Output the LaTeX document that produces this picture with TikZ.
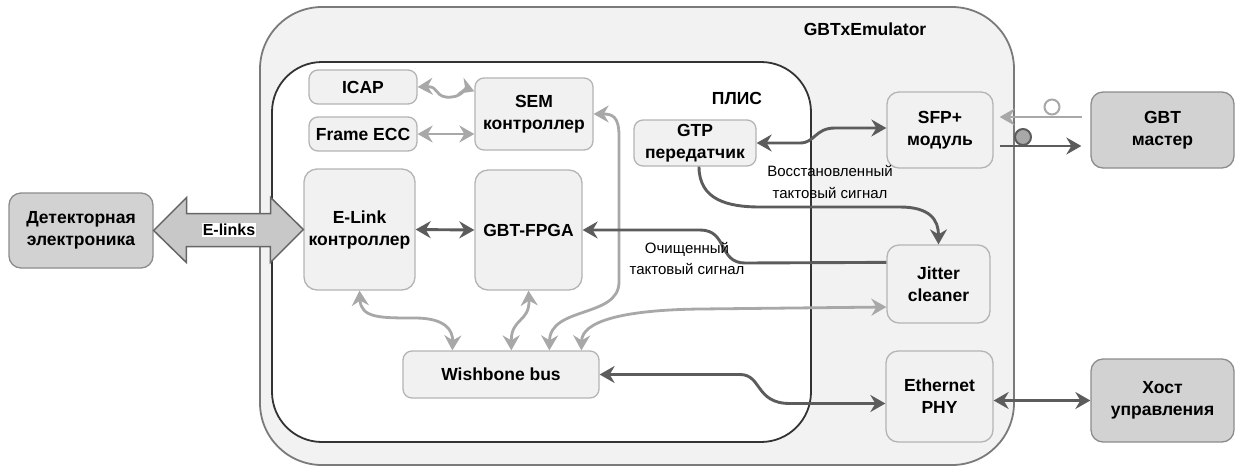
\documentclass[tikz,border=0pt]{standalone}
\usepackage{fontspec}
\setmainfont{Liberation Sans}
\usetikzlibrary{arrows.meta,calc}
\definecolor{blkfill}{HTML}{F1F1F1}
\definecolor{blkbord}{HTML}{B4B4B4}
\definecolor{dfill}{HTML}{D2D2D2}
\definecolor{dbord}{HTML}{8C8C8C}
\definecolor{outf}{HTML}{F2F2F2}
\definecolor{outb}{HTML}{7A7A7A}
\definecolor{inb}{HTML}{333333}
\definecolor{lcol}{HTML}{A8A8A8}
\definecolor{dcol}{HTML}{5C5C5C}
\definecolor{bigf}{HTML}{C8C8C8}
\definecolor{bigb}{HTML}{666666}
\newcommand\blkfont{\bfseries\fontsize{17.5}{22}\selectfont}
\newcommand\lblfont{\fontsize{15}{21}\selectfont}
\begin{document}
\begin{tikzpicture}[x=1pt,y=-1pt,
  blk/.style={draw=blkbord, fill=blkfill, rounded corners=9pt, line width=1.3pt, inner sep=0pt, align=center, font=\blkfont},
  dblk/.style={blk, draw=dbord, fill=dfill},
  cont/.style={inner sep=0pt, line width=1.8pt},
  tip/.style={>={Stealth[length=15pt,width=17pt,inset=5pt]}},
  lconn/.style={tip, draw=lcol, line width=2.8pt, line join=round},
  dconn/.style={tip, draw=dcol, line width=2.9pt, line join=round},
  lbl/.style={font=\lblfont, align=center, inner sep=0pt},
  ttl/.style={font=\blkfont, inner sep=0pt}
]
\useasboundingbox (0,0) rectangle (1240,467);
\fill[white] (0,0) rectangle (1240,467);

% containers
\node[cont, draw=outb, fill=outf, rounded corners=62pt, minimum width=754pt, minimum height=458pt] (emu) at (637,236) {};
\node[cont, draw=inb, fill=white, rounded corners=50pt, minimum width=539pt, minimum height=380pt] (plis) at (541.5,252) {};
\node[ttl] (emulbl) at (865,29) {GBTxEmulator};
\node[ttl] (plislbl) at (737,98) {ПЛИС};

% blocks
\node[blk, minimum width=108pt, minimum height=34pt] (icap) at (363,87) {ICAP};
\node[blk, minimum width=108pt, minimum height=34pt] (ecc) at (363,134) {Frame ECC};
\node[blk, minimum width=118pt, minimum height=72pt] (sem) at (534,114) {SEM\\контроллер};
\node[blk, minimum width=122pt, minimum height=46pt] (gtp) at (695,143) {GTP\\передатчик};
\node[blk, rounded corners=13pt, minimum width=111pt, minimum height=121pt] (elink) at (359.5,229.5) {E-Link\\контроллер};
\node[blk, rounded corners=13pt, minimum width=107pt, minimum height=120pt] (gbt) at (528.5,230) {GBT-FPGA};
\node[blk, minimum width=196pt, minimum height=47pt] (wb) at (501,374.5) {Wishbone bus};
\node[blk, rounded corners=12pt, minimum width=106pt, minimum height=76pt] (sfp) at (940,130) {SFP+\\модуль};
\node[blk, rounded corners=12pt, minimum width=103pt, minimum height=78pt] (jit) at (938.5,284) {Jitter\\cleaner};
\node[blk, rounded corners=12pt, minimum width=107pt, minimum height=91pt] (eth) at (939.5,396.5) {Ethernet\\PHY};
\node[dblk, rounded corners=12pt, minimum width=143pt, minimum height=76pt] (gbtm) at (1162.5,130) {GBT\\мастер};
\node[dblk, rounded corners=12pt, minimum width=144pt, minimum height=75pt] (det) at (81,230.5) {Детекторная\\электроника};
\node[dblk, rounded corners=12pt, minimum width=143pt, minimum height=83pt] (host) at (1162.5,400.5) {Хост\\управления};

% E-links big double arrow
\draw[fill=bigf, draw=bigb, line width=1.5pt, line join=miter]
  (det.east) -- ++(33,-33) -- ++(0,16) -- ++(84,0) -- ++(0,-16) -- (elink.west)
  -- ++(-33,33) -- ++(0,-16) -- ++(-84,0) -- ++(0,16) -- cycle;
\node[font=\bfseries\fontsize{16}{19}\selectfont, fill=white, inner sep=1pt] (elinks) at (229,230) {E-links};

% light connectors
\draw[lconn, <->] (icap.east) .. controls (440,86) and (434,99) .. (452,97) .. controls (462,96) and (466,88) .. ($(sem.north west)+(0,14)$);
\draw[lconn, <->] (ecc.east) -- (ecc.east -| sem.west);
\coordinate (wb1) at ($(wb.north west)+(50,0)$);
\coordinate (wb2) at ($(wb.north west)+(109,0)$);
\coordinate (wb3) at ($(wb.north west)+(147,0)$);
\coordinate (wb4) at ($(wb.north west)+(179,0)$);
\draw[lconn, <->] (sem.east) .. controls (612,114) and (619,116) .. (619,136) -- (619,282) .. controls (619,318) and (550,306) .. (wb3);
\draw[lconn, <->] (elink.south) .. controls (361,318) and (380,318) .. (415,318) .. controls (445,318) and (453,330) .. (wb1);
\draw[lconn, <->] (gbt.south) .. controls (530,322) and (511,318) .. (wb2);
\draw[lconn, <->] (wb4) .. controls (582,322) and (620,310) .. (700,309) -- ($(jit.west)+(0,23)$);
\draw[lconn, ->] ($(gbtm.west)+(-8,-13)$) -- ($(sfp.east)+(6,-13)$);
\node[circle, draw=lcol, fill=white, line width=2pt, minimum size=15pt, inner sep=0pt] (ocirc) at (1052,107) {};

% dark connectors
\draw[dconn, <->] (elink.east) -- (gbt.west);
\draw[dconn, ->] ($(jit.north west)+(0,18)$) -- (745,263) .. controls (718,263) and (728,230) .. (700,230) -- (gbt.east);
\draw[dconn, ->] ($(gtp.south)+(4,0)$) .. controls (699,200) and (728,207) .. (760,207) -- (900,207) .. controls (930,207) and (938.5,220) .. (jit.north);
\draw[dconn, <->] (gtp.east) -- (800,143) .. controls (815,143) and (815,128) .. (835,128) -- ($(sfp.west)+(0,-2)$);
\draw[dconn, ->] ($(sfp.east)+(6,16)$) -- ($(gbtm.west)+(-9,16)$);
\node[circle, draw=dcol, fill=lcol, line width=2pt, minimum size=16pt, inner sep=0pt] (fcirc) at (1023,137) {};
\draw[dconn, <->] (wb.east) -- (740,374.5) .. controls (762,374.5) and (755,403.5) .. (790,403.5) -- ($(eth.west)+(0,7)$);
\draw[dconn, <->] (eth.east |- host.west) -- (host.west);

% labels
\node[lbl] (reclbl) at (830,182) {Восстановленный\\тактовый сигнал};
\node[lbl] (cleanlbl) at (687,258) {Очищенный\\тактовый сигнал};
\end{tikzpicture}
\end{document}
